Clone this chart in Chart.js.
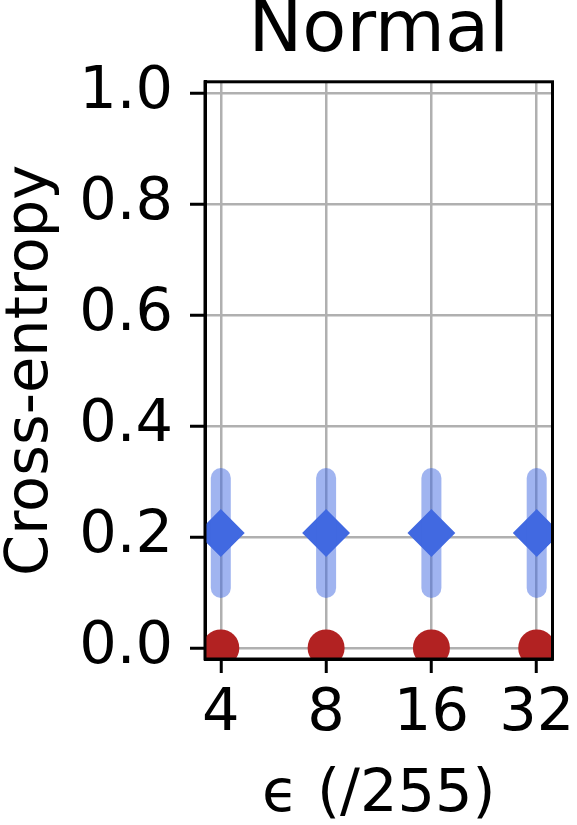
<!DOCTYPE html>
<html>
<head>
<meta charset="utf-8">
<script src="https://cdn.jsdelivr.net/npm/chart.js@4"></script>
<style>
  body { margin: 0; background: #fff; }
</style>
</head>
<body>
<canvas id="chart" width="577" height="825"></canvas>
<script>
// values
const categories = ['4', '8', '16', '32'];
const yTickValues = [0.0, 0.2, 0.4, 0.6, 0.8, 1.0];
const diamondMean = [0.207, 0.207, 0.207, 0.207];
const diamondErr = [0.099, 0.099, 0.099, 0.099];
const circleMean = [0.0, 0.0, 0.0, 0.0];

const font = 'DejaVu Sans';

// error bars go on top of everything, like the original
const errorBars = {
    id: 'errorBars',
    afterDraw(chart) {
        const ctx = chart.ctx;
        const xs = chart.scales.x;
        const ys = chart.scales.y;
        const area = chart.chartArea;
        ctx.save();
        ctx.beginPath();
        ctx.rect(area.left, area.top, area.right - area.left, area.bottom - area.top);
        ctx.clip();
        ctx.strokeStyle = 'rgba(65, 105, 225, 0.5)';
        ctx.lineWidth = 20;
        ctx.lineCap = 'round';
        diamondMean.forEach((m, i) => {
            const x = xs.getPixelForValue(i);
            ctx.beginPath();
            ctx.moveTo(x, ys.getPixelForValue(m - diamondErr[i]));
            ctx.lineTo(x, ys.getPixelForValue(m + diamondErr[i]));
            ctx.stroke();
        });
        ctx.restore();

        // top and right spines
        ctx.save();
        ctx.strokeStyle = '#000';
        ctx.lineWidth = 3;
        ctx.strokeRect(area.left, area.top, area.right - area.left, area.bottom - area.top);
        ctx.restore();
    }
};

const ctx = document.getElementById('chart').getContext('2d');
new Chart(ctx, {
    type: 'scatter',
    data: {
        datasets: [{
            data: circleMean.map((v, i) => ({x: i, y: v})),
            pointStyle: 'circle',
            pointRadius: 18.5,
            pointBackgroundColor: '#b22222',
            pointBorderColor: '#b22222',
            pointBorderWidth: 0,
            clip: 0
        }, {
            data: diamondMean.map((v, i) => ({x: i, y: v})),
            pointStyle: 'rectRot',
            pointRadius: 22.5,
            pointBackgroundColor: '#4169e1',
            pointBorderColor: '#4169e1',
            pointBorderWidth: 2,
            clip: 0
        }]
    },
    options: {
        responsive: false,
        animation: false,
        devicePixelRatio: 1,
        layout: {
            padding: {left: 0, right: 23, top: 0, bottom: 0}
        },
        plugins: {
            legend: {display: false},
            tooltip: {enabled: false},
            title: {
                display: true,
                text: 'Normal',
                fullSize: false,
                color: '#000',
                font: {family: font, size: 72, weight: 'normal', lineHeight: 0.9},
                padding: {top: 0, bottom: 17}
            }
        },
        scales: {
            x: {
                type: 'linear',
                min: -0.15,
                max: 3.15,
                z: 1,
                afterBuildTicks: scale => {
                    scale.ticks = categories.map((c, i) => ({value: i}));
                },
                afterFit: scale => {
                    scale.height = 166;
                    scale.paddingLeft = 0;
                    scale.paddingRight = 0;
                },
                ticks: {
                    color: '#000',
                    padding: 12,
                    maxRotation: 0,
                    font: {family: font, size: 59, lineHeight: 1},
                    callback: v => categories[v]
                },
                grid: {
                    color: '#b0b0b0',
                    lineWidth: 2.5,
                    tickColor: '#000',
                    tickWidth: 3,
                    tickLength: 14
                },
                border: {color: '#000', width: 3},
                title: {
                    display: true,
                    text: 'ϵ (/255)',
                    color: '#000',
                    padding: 0,
                    font: {family: font, size: 59, lineHeight: 1}
                }
            },
            y: {
                min: -0.02,
                max: 1.02,
                z: 1,
                afterBuildTicks: scale => {
                    scale.ticks = yTickValues.map(v => ({value: v}));
                },
                afterFit: scale => {
                    scale.width = 205;
                    scale.paddingTop = 0;
                    scale.paddingBottom = 0;
                },
                ticks: {
                    color: '#000',
                    padding: 17,
                    font: {family: font, size: 59, lineHeight: 1},
                    callback: v => v.toFixed(1)
                },
                grid: {
                    color: '#b0b0b0',
                    lineWidth: 2.5,
                    tickColor: '#000',
                    tickWidth: 3,
                    tickLength: 15
                },
                border: {color: '#000', width: 3},
                title: {
                    display: true,
                    text: 'Cross-entropy',
                    color: '#000',
                    padding: {top: 2, bottom: 0},
                    font: {family: font, size: 59, lineHeight: 1}
                }
            }
        }
    },
    plugins: [errorBars]
});
</script>
</body>
</html>
